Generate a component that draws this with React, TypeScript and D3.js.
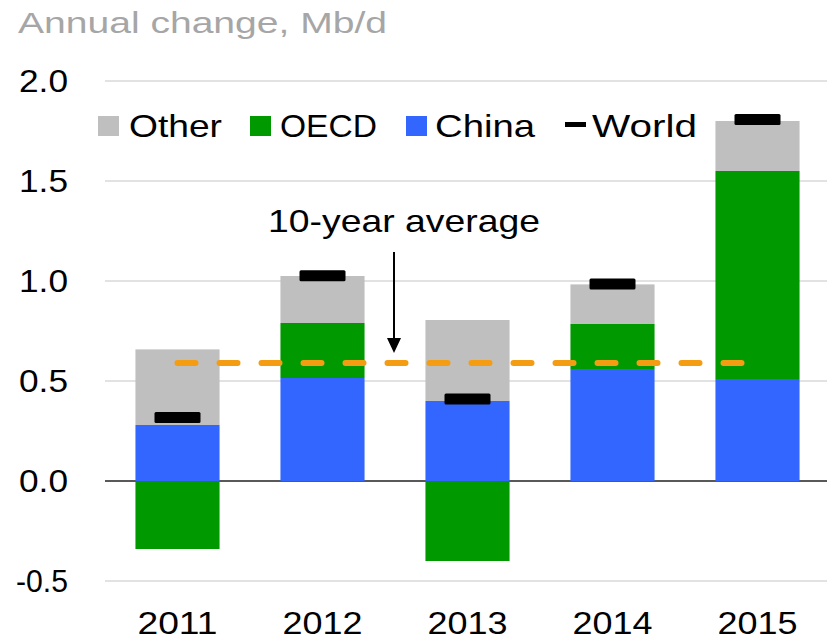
import React from "react";
import * as d3 from "d3";

const categories = ["2011", "2012", "2013", "2014", "2015"];
const china = [0.28, 0.515, 0.4, 0.56, 0.51];
const oecd = [-0.34, 0.275, -0.4, 0.225, 1.04];
const other = [0.378, 0.235, 0.405, 0.198, 0.25];
const world = [0.317, 1.026, 0.41, 0.985, 1.807];
const tenYearAverage = 0.59;
const yTicks = [-0.5, 0, 0.5, 1.0, 1.5, 2.0];
const seriesKeys = ["china", "oecd", "other"];
const colors: Record<string, string> = { china: "#3366ff", oecd: "#009900", other: "#bfbfbf" };

const W = 827;
const H = 641;
const FONT = "'Liberation Sans', Arial, Helvetica, sans-serif";
const fmt = d3.formatLocale({ decimal: ".", thousands: ",", grouping: [3], currency: ["", ""], minus: "-" }).format(".1f");

export default function App() {
  const x = d3.scaleBand<string>().domain(categories).range([105, 830]).paddingInner(0.42).paddingOuter(0.21);
  const y = d3.scaleLinear().domain([-0.5, 2.0]).range([581, 81]);

  const rows = categories.map((c, i) => ({ cat: c, china: china[i], oecd: oecd[i], other: other[i] }));
  const stacked = d3.stack<any>().keys(seriesKeys).offset(d3.stackOffsetDiverging)(rows);

  const bw = x.bandwidth();
  const avgX1 = (x(categories[0]) ?? 0) + bw / 2;
  const avgX2 = (x(categories[categories.length - 1]) ?? 0) + bw / 2 - 16;

  const legendItems = [
    { label: "Other", key: "other", sx: 98, tx: 129, tw: 93 },
    { label: "OECD", key: "oecd", sx: 250, tx: 280, tw: 97 },
    { label: "China", key: "china", sx: 406, tx: 435, tw: 100 },
  ];

  return (
    <svg width={W} height={H} style={{ position: "absolute", left: 0, top: 0, background: "#fff" }} fontFamily={FONT}>
      <text x={18} y={33} fontSize={29} fill="#a6a6a6" textLength={369} lengthAdjust="spacingAndGlyphs">
        Annual change, Mb/d
      </text>

      {yTicks.map((t) => (
        <g key={t}>
          <line x1={105} x2={W} y1={y(t)} y2={y(t)} stroke={t === 0 ? "#595959" : "#d9d9d9"} strokeWidth={t === 0 ? 2 : 1.5} />
          <text x={68} y={y(t) + 11} fontSize={32} textAnchor="end" fill="#000" textLength={t < 0 ? 52 : 49} lengthAdjust="spacingAndGlyphs">
            {fmt(t)}
          </text>
        </g>
      ))}

      {stacked.map((s) => (
        <g key={s.key} fill={colors[s.key]}>
          {s.map((d, i) => (
            <rect
              key={i}
              x={x(categories[i])}
              width={bw}
              y={y(Math.max(d[0], d[1]))}
              height={Math.abs(y(d[0]) - y(d[1]))}
            />
          ))}
        </g>
      ))}

      {world.map((v, i) => (
        <rect key={i} x={(x(categories[i]) ?? 0) + bw / 2 - 23} y={y(v) - 5.5} width={46} height={11} rx={1.5} fill="#000" />
      ))}

      <line x1={avgX1} x2={avgX2} y1={y(tenYearAverage)} y2={y(tenYearAverage)} stroke="#f59d12" strokeWidth={6} strokeDasharray="18 24" strokeLinecap="round" />

      <text x={404} y={232} fontSize={32} textAnchor="middle" fill="#000" textLength={272} lengthAdjust="spacingAndGlyphs">
        10-year average
      </text>
      <line x1={394} x2={394} y1={252} y2={340} stroke="#000" strokeWidth={2} />
      <path d={`M387,338 L401,338 L394,353 Z`} fill="#000" />

      {categories.map((c) => (
        <text key={c} x={(x(c) ?? 0) + bw / 2} y={634} fontSize={31} textAnchor="middle" fill="#000" textLength={80} lengthAdjust="spacingAndGlyphs">
          {c}
        </text>
      ))}

      {legendItems.map((it) => (
        <g key={it.key}>
          <rect x={it.sx} y={116} width={21} height={20} fill={colors[it.key]} />
          <text x={it.tx} y={137} fontSize={32} fill="#000" textLength={it.tw} lengthAdjust="spacingAndGlyphs">
            {it.label}
          </text>
        </g>
      ))}
      <rect x={565} y={122} width={21} height={5} fill="#000" />
      <text x={592} y={137} fontSize={32} fill="#000" textLength={105} lengthAdjust="spacingAndGlyphs">
        World
      </text>
    </svg>
  );
}
